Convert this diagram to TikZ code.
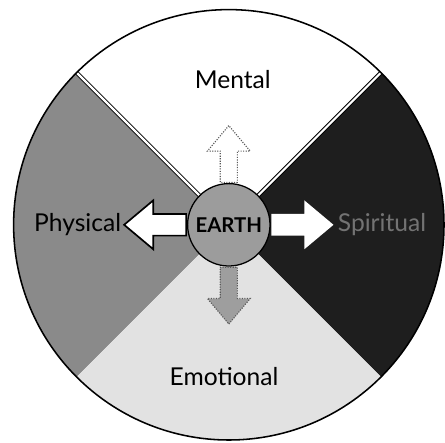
\documentclass[tikz,border=0pt]{standalone}
\usepackage{fontspec}
\setmainfont{Lato}
\usepackage{xcolor}
\usepackage{tikz}
\usetikzlibrary{arrows.meta,positioning,shapes.arrows,calc}
\definecolor{physgray}{HTML}{8A8A8A}
\definecolor{spiritdark}{HTML}{1E1E1E}
\definecolor{emogray}{HTML}{E2E2E2}
\definecolor{earthgray}{HTML}{9C9C9C}
\tikzset{
  divider/.style={draw=black, double=white, double distance=1.6pt, line width=0.7pt},
  earthnode/.style={circle, draw=black, fill=earthgray, line width=0.9pt, minimum size=2.06cm, inner sep=0pt, font=\fontsize{14.5}{16}\selectfont\bfseries},
  bigarrow/.style={single arrow, minimum height=1.55cm, minimum width=1.17cm, single arrow head extend=0.34cm, single arrow tip angle=80, inner xsep=0pt, inner ysep=0.25cm, fill=white, line width=1.2pt},
  faintarrow/.style={single arrow, minimum height=1.42cm, minimum width=1.05cm, single arrow head extend=0.32cm, single arrow tip angle=80, inner xsep=0pt, inner ysep=0.2cm, draw=black!65, densely dotted, line width=0.8pt},
  quarter/.style={font=\fontsize{17.5}{20}\selectfont}
}
\begin{document}
\begin{tikzpicture}
  \useasboundingbox (0,0) rectangle (11.125,11.05);
  \coordinate (c) at (5.72,5.43);
  % quarters of the wheel
  \fill[physgray] (c) -- ++(135:5.38) arc (135:225:5.38) -- cycle;
  \fill[spiritdark] (c) -- ++(-45:5.38) arc (-45:45:5.38) -- cycle;
  \fill[emogray] (c) -- ++(225:5.38) arc (225:315:5.38) -- cycle;
  \draw[divider] (c) -- ++(45:5.38);
  \draw[divider] (c) -- ++(135:5.38);
  \draw[line width=1.1pt] (c) circle (5.38);
  % centre and arrows
  \node[earthnode] (earth) at (c) {EARTH};
  \node[bigarrow, draw=black, rotate=180, anchor=tail] (west) at (earth.west) {};
  \node[bigarrow, rotate=0, anchor=tail] (east) at (earth.east) {};
  \node[faintarrow, rotate=90, anchor=tail] (north) at (earth.north) {};
  \node[faintarrow, rotate=-90, anchor=tail, fill=emogray!70!black] (south) at (earth.south) {};
  % labels
  \node[quarter] (mental) at ($(c)+(0.1,3.63)$) {Mental};
  \node[quarter] (emo) at ($(c)+(-0.12,-3.8)$) {Emotional};
  \node[quarter, anchor=east, inner xsep=1pt] (phys) at (west.tip) {Physical};
  \node[quarter, text=black!55, anchor=west, inner xsep=2pt] (spirit) at (east.tip) {Spiritual};
\end{tikzpicture}
\end{document}
